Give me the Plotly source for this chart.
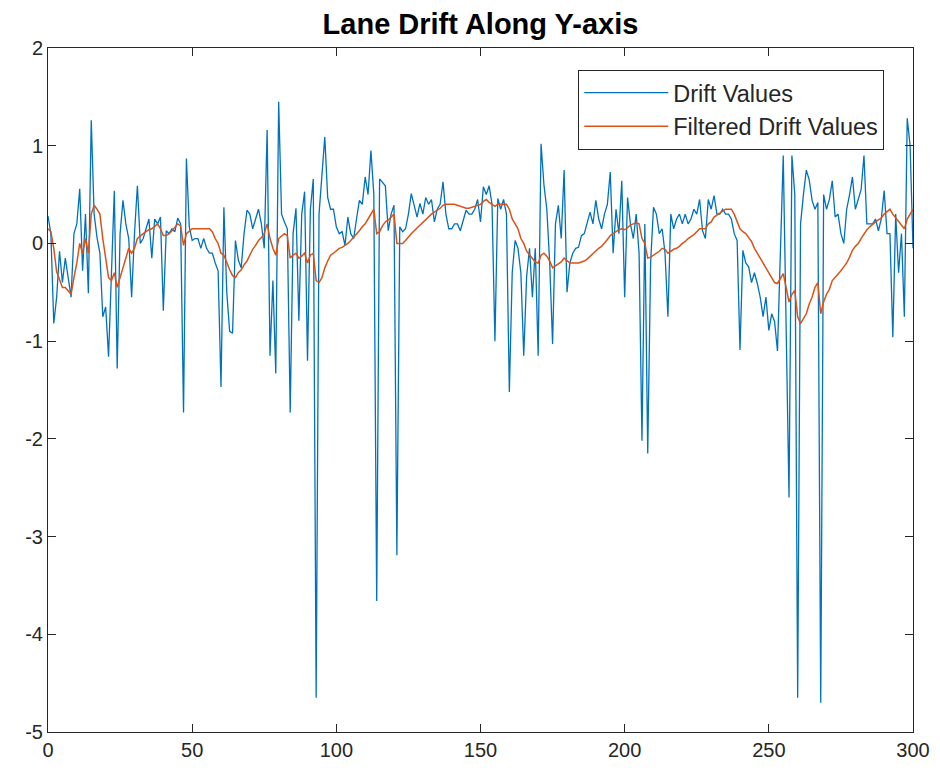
import plotly.graph_objects as go

sample_index = list(range(0, 301))

drift_values = [
    0.28, 0.1, -0.82, -0.55, -0.08, -0.4, -0.15, -0.35, -0.55, 0.1,
    0.2, 0.56, -0.28, 0.3, -0.51, 1.26, 0.3, 0.06, -0.1, -0.75,
    -0.65, -1.16, -0.4, 0.54, -1.28, 0.1, 0.44, 0.2, 0.05, -0.55,
    0.1, 0.59, 0.0, 0.05, 0.15, 0.25, -0.15, 0.25, 0.2, 0.27,
    -0.69, 0.13, 0.1, 0.15, 0.12, 0.26, 0.2, -1.73, 0.87, 0.17,
    0.03, 0.05, 0.05, -0.05, 0.05, -0.05, -0.1, -0.1, -0.2, -0.28,
    -1.47, 0.37, -0.5, -0.9, -0.92, 0.03, -0.17, -0.25, 0.1, 0.34,
    0.3, 0.15, 0.25, 0.35, 0.2, -0.05, 1.16, -1.15, -0.38, -1.33,
    1.45, 0.3, 0.22, 0.15, -1.73, 0.1, 0.36, -0.79, 0.3, 0.53,
    -1.2, 0.35, 0.66, -4.65, 0.3, 0.75, 1.09, 0.47, 0.35, 0.35,
    0.17, 0.1, 0.12, -0.02, 0.27, 0.1, 0.05, 0.25, 0.44, 0.4,
    0.68, 0.5, 0.95, 0.5, -3.66, 0.66, 0.62, 0.59, 0.13, 0.3,
    0.39, -3.19, 0.17, 0.12, 0.15, 0.3, 0.51, 0.4, 0.27, 0.41,
    0.3, 0.47, 0.4, 0.45, 0.22, 0.35, 0.4, 0.63, 0.3, 0.15,
    0.15, 0.2, 0.2, 0.13, 0.25, 0.34, 0.3, 0.3, 0.35, 0.45,
    0.22, 0.58, 0.5, 0.59, 0.4, -1.0, 0.46, 0.35, 0.45, 0.3,
    -1.52, -0.3, 0.03, -0.05, -0.3, -1.15, -0.34, -0.05, -0.55, -0.05,
    -1.15, 1.02, 0.6, 0.35, -0.2, -1.03, 0.2, 0.39, 0.05, 0.75,
    -0.5, -0.2, -0.1, -0.05, -0.04, 0.08, 0.1, 0.2, 0.32, 0.2,
    0.44, 0.25, 0.15, 0.3, 0.4, 0.73, -0.1, 0.35, 0.1, 0.64,
    -0.55, 0.47, 0.2, 0.05, 0.3, -0.1, -2.02, 0.2, -2.15, -0.2,
    0.37, 0.3, 0.1, 0.15, -0.1, -0.75, 0.3, 0.15, 0.25, 0.3,
    0.2, 0.3, 0.2, 0.25, 0.35, 0.3, 0.45, 0.13, 0.05, 0.45,
    0.35, 0.49, 0.3, 0.3, 0.35, 0.3, 0.3, 0.25, 0.1, 0.03,
    -1.09, -0.07, -0.2, -0.24, -0.4, -0.3, -0.41, -0.55, -0.75, -0.55,
    -0.89, -0.72, -0.8, -1.1, -0.2, 0.9, -0.85, -2.6, 0.9, 0.5,
    -4.65, 0.2, 0.5, 0.75, 0.65, 0.44, 0.35, 0.42, -4.7, 0.5,
    0.35, 0.45, 0.64, 0.27, 0.3, 0.1, 0.0, 0.35, 0.5, 0.68,
    0.35, 0.45, 0.55, 0.9, 0.2, 0.2, 0.2, 0.25, 0.13, 0.25,
    0.54, 0.1, 0.1, -0.96, 0.3, -0.3, 0.1, -0.75, 1.28, 1.0,
    -0.05,
]

filtered_values = [
    0.15, 0.12, -0.05, -0.29, -0.37, -0.45, -0.45, -0.48, -0.52, -0.35,
    -0.2, 0.0, -0.1, 0.05, -0.1, 0.3, 0.39, 0.35, 0.3, 0.05,
    -0.15, -0.35, -0.38, -0.3, -0.45, -0.35, -0.25, -0.15, -0.05, -0.1,
    -0.05, 0.05, 0.08, 0.1, 0.12, 0.14, 0.15, 0.18, 0.2, 0.15,
    0.08, 0.08, 0.1, 0.13, 0.16, 0.2, 0.18, -0.02, 0.1, 0.13,
    0.15, 0.15, 0.15, 0.15, 0.15, 0.15, 0.15, 0.12, 0.05, 0.0,
    -0.1, -0.12, -0.2, -0.27, -0.33, -0.35, -0.3, -0.27, -0.22, -0.18,
    -0.12, -0.06, -0.02, 0.03, 0.06, 0.1, 0.2, 0.05, -0.05, -0.12,
    0.05, 0.08, 0.1, 0.08, -0.15, -0.12, -0.1, -0.15, -0.13, -0.1,
    -0.2, -0.12, -0.1, -0.38, -0.4, -0.35, -0.25, -0.18, -0.12, -0.1,
    -0.07, -0.05, -0.04, -0.02, 0.0, 0.03, 0.06, 0.1, 0.13, 0.17,
    0.2, 0.25, 0.3, 0.35, 0.1, 0.12, 0.18, 0.22, 0.24, 0.27,
    0.3, 0.0, 0.0, 0.0, 0.03, 0.07, 0.1, 0.13, 0.16, 0.19,
    0.21, 0.24, 0.27, 0.3, 0.32, 0.34, 0.36, 0.39, 0.4, 0.4,
    0.4, 0.4, 0.39, 0.38, 0.37, 0.36, 0.36, 0.37, 0.38, 0.39,
    0.4, 0.43, 0.45, 0.42, 0.4, 0.38, 0.4, 0.4, 0.4, 0.4,
    0.35, 0.25, 0.2, 0.15, 0.05, 0.0, -0.08, -0.12, -0.16, -0.19,
    -0.2, -0.12, -0.1, -0.13, -0.18, -0.25, -0.23, -0.21, -0.19, -0.15,
    -0.18, -0.2, -0.2, -0.2, -0.2, -0.19, -0.18, -0.16, -0.13, -0.11,
    -0.08, -0.05, -0.03, 0.0, 0.04, 0.08, 0.1, 0.12, 0.14, 0.15,
    0.14, 0.16, 0.19, 0.2, 0.21, 0.2, 0.05, 0.0, -0.15, -0.14,
    -0.12, -0.1, -0.08, -0.05, -0.06, -0.1, -0.08, -0.06, -0.05, -0.03,
    0.0, 0.02, 0.05, 0.07, 0.09, 0.12, 0.15, 0.15, 0.15, 0.2,
    0.22, 0.27, 0.29, 0.31, 0.33, 0.35, 0.35, 0.35, 0.3, 0.22,
    0.15, 0.12, 0.1, 0.06, 0.02, -0.05, -0.1, -0.15, -0.21, -0.26,
    -0.3, -0.35, -0.4, -0.41, -0.36, -0.31, -0.45, -0.6, -0.52, -0.48,
    -0.75, -0.82, -0.77, -0.72, -0.62, -0.55, -0.45, -0.4, -0.72, -0.6,
    -0.52, -0.47, -0.38, -0.35, -0.32, -0.28, -0.24, -0.2, -0.14, -0.07,
    -0.03, 0.0, 0.05, 0.1, 0.14, 0.17, 0.2, 0.22, 0.24, 0.26,
    0.3, 0.33, 0.35, 0.3, 0.26, 0.22, 0.18, 0.15, 0.25, 0.3,
    0.35,
]

x_ticks = [0, 50, 100, 150, 200, 250, 300]
x_tick_labels = ["0", "50", "100", "150", "200", "250", "300"]
y_ticks = [-5, -4, -3, -2, -1, 0, 1, 2]
y_tick_labels = ["-5", "-4", "-3", "-2", "-1", "0", "1", "2"]

AXIS_COLOR = "#262626"
FONT = "Liberation Sans, Arial, sans-serif"

fig = go.Figure()
fig.add_trace(go.Scatter(
    x=sample_index, y=drift_values, mode="lines", name="Drift Values",
    line=dict(color="#0072BD", width=1.3),
))
fig.add_trace(go.Scatter(
    x=sample_index, y=filtered_values, mode="lines", name="Filtered Drift Values",
    line=dict(color="#D95319", width=1.5),
))

axis_common = dict(
    showgrid=False, zeroline=False, showline=True, mirror="ticks",
    linecolor=AXIS_COLOR, linewidth=1, ticks="inside", ticklen=8,
    tickcolor=AXIS_COLOR, tickwidth=1, ticklabeloverflow="allow",
    tickfont=dict(family=FONT, size=20, color=AXIS_COLOR),
)

fig.update_layout(
    width=940, height=778,
    paper_bgcolor="white", plot_bgcolor="white",
    margin=dict(l=40, r=35, t=40, b=54),
    title=dict(
        text="<b>Lane Drift Along Y-axis</b>", x=0.5, xanchor="center",
        xref="paper", y=0.979, yanchor="middle",
        font=dict(family=FONT, size=29, color="#000000"),
    ),
    xaxis=dict(range=[0, 300], tickvals=x_ticks, ticktext=x_tick_labels, **axis_common),
    yaxis=dict(range=[-5, 2], tickvals=y_ticks, ticktext=y_tick_labels, **axis_common),
    legend=dict(
        x=0.613, y=0.968, xanchor="left", yanchor="top",
        bgcolor="white", bordercolor=AXIS_COLOR, borderwidth=1,
        font=dict(family=FONT, size=23.5, color=AXIS_COLOR),
        tracegroupgap=0, itemwidth=84,
    ),
    showlegend=True,
)

fig.write_html("out.html")
